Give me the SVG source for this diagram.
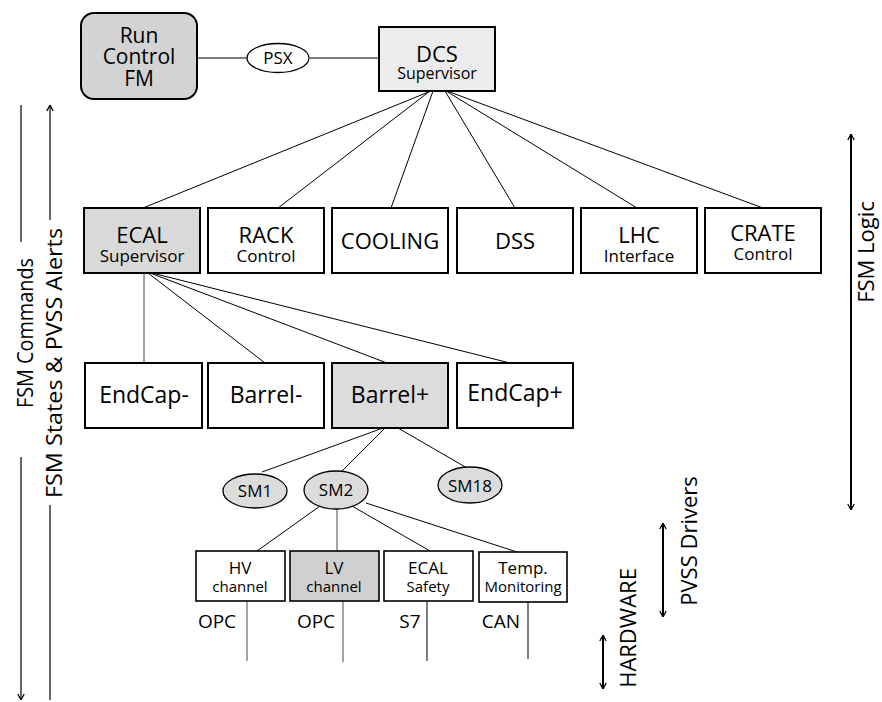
<svg xmlns="http://www.w3.org/2000/svg" width="882" height="702" viewBox="0 0 882 702">
<defs>
<style>
text{font-family:"Open Sans","Liberation Sans",sans-serif;fill:#000;text-anchor:middle}
.box{stroke:#000;stroke-width:2;fill:#fff}
.sbox{stroke:#000;stroke-width:1.6;fill:#fff}
.t22{font-size:22px}
.t21{font-size:21px}
.t23{font-size:23px}
.t17{font-size:17px}
.t16{font-size:16px}
.t15{font-size:15px}
.t19{font-size:19px}
.c{stroke:#000;stroke-width:1;fill:none}
.cg{stroke:#666;stroke-width:1.2;fill:none}
.ax{stroke:#000;stroke-width:2;fill:none}
.axl{stroke:#000;stroke-width:1.2;fill:none}
</style>
<marker id="ah" viewBox="0 0 10 10" refX="9.5" refY="5" markerWidth="8" markerHeight="8" markerUnits="userSpaceOnUse" orient="auto-start-reverse">
<path d="M2,1 L9.5,5 L2,9" fill="none" stroke="#000" stroke-width="1.6"/>
</marker>
</defs>
<rect width="882" height="702" fill="#fff"/>

<g id="connectors">
<line class="c" x1="197" y1="58" x2="247" y2="58"/>
<line class="c" x1="310" y1="58" x2="379" y2="58"/>
<line class="c" x1="431" y1="91" x2="143" y2="208"/>
<line class="c" x1="430" y1="91" x2="278" y2="208" stroke-width="1.5"/>
<line class="c" x1="433" y1="91" x2="391" y2="208"/>
<line class="c" x1="445" y1="91" x2="515" y2="208"/>
<line class="c" x1="446" y1="91" x2="637" y2="208"/>
<line class="c" x1="447" y1="91" x2="763" y2="208"/>
<line class="cg" x1="144" y1="273" x2="144" y2="363"/>
<line class="c" x1="148" y1="273" x2="265" y2="363" stroke-width="1.5"/>
<line class="c" x1="150" y1="273" x2="387" y2="363"/>
<line class="c" x1="152" y1="273" x2="510" y2="363"/>
<line class="c" x1="383" y1="428" x2="262" y2="472"/>
<line class="c" x1="385" y1="428" x2="342" y2="471"/>
<line class="c" x1="398" y1="428" x2="467" y2="468"/>
<line class="c" x1="320" y1="506" x2="257" y2="551"/>
<line class="cg" x1="337" y1="509" x2="337" y2="551"/>
<line class="c" x1="352" y1="506" x2="430" y2="551"/>
<line class="c" x1="366" y1="503" x2="517" y2="552"/>
<line class="cg" x1="247" y1="601" x2="247" y2="661"/>
<line class="cg" x1="343" y1="601" x2="343" y2="662"/>
<line class="c" x1="427" y1="601" x2="427" y2="661"/>
<line class="c" x1="528" y1="602" x2="528" y2="659"/>
</g>

<g id="run-control">
<rect x="81" y="13" width="116" height="86" rx="13" fill="#d3d3d3" stroke="#000" stroke-width="2"/>
<text class="t21" x="139" y="43">Run</text>
<text class="t21" x="139" y="64">Control</text>
<text class="t21" x="139" y="86">FM</text>
</g>
<g id="psx">
<ellipse cx="278" cy="58" rx="31" ry="14.5" fill="#fff" stroke="#000" stroke-width="1.3"/>
<text class="t17" x="278" y="64">PSX</text>
</g>
<g id="dcs">
<rect x="379" y="27" width="116" height="64" fill="#ececec" stroke="#000" stroke-width="2"/>
<text class="t22" x="437" y="62">DCS</text>
<text class="t16" x="437" y="79">Supervisor</text>
</g>

<g id="ecal">
<rect x="84" y="208" width="116" height="65" class="box" style="fill:#d9d9d9"/>
<text class="t22" x="142" y="243">ECAL</text>
<text class="t17" x="142" y="262">Supervisor</text>
</g>
<g id="rack">
<rect x="208" y="208" width="116" height="65" class="box"/>
<text class="t22" x="266" y="243">RACK</text>
<text class="t17" x="266" y="262">Control</text>
</g>
<g id="cooling">
<rect x="332" y="208" width="116" height="65" class="box"/>
<text class="t22" x="390" y="249">COOLING</text>
</g>
<g id="dss">
<rect x="457" y="208" width="116" height="65" class="box"/>
<text class="t22" x="515" y="249">DSS</text>
</g>
<g id="lhc">
<rect x="581" y="208" width="116" height="65" class="box"/>
<text class="t22" x="639" y="243">LHC</text>
<text class="t17" x="639" y="262">Interface</text>
</g>
<g id="crate">
<rect x="705" y="208" width="116" height="65" class="box"/>
<text class="t22" x="763" y="241">CRATE</text>
<text class="t17" x="763" y="260">Control</text>
</g>

<g id="endcap-minus">
<rect x="85" y="363" width="117" height="65" class="box"/>
<text class="t23" x="144" y="403">EndCap-</text>
</g>
<g id="barrel-minus">
<rect x="208" y="363" width="116" height="65" class="box"/>
<text class="t23" x="266" y="403">Barrel-</text>
</g>
<g id="barrel-plus">
<rect x="332" y="363" width="116" height="65" class="box" style="fill:#dcdcdc"/>
<text class="t23" x="390" y="403">Barrel+</text>
</g>
<g id="endcap-plus">
<rect x="457" y="363" width="116" height="65" class="box"/>
<text class="t23" x="515" y="401">EndCap+</text>
</g>

<g id="sm1">
<ellipse cx="255" cy="491" rx="32" ry="17" fill="#dcdcdc" stroke="#000" stroke-width="1.3"/>
<text class="t17" x="255" y="497">SM1</text>
</g>
<g id="sm2">
<ellipse cx="336" cy="490" rx="32" ry="19" fill="#dcdcdc" stroke="#000" stroke-width="1.3"/>
<text class="t17" x="336" y="496">SM2</text>
</g>
<g id="sm18">
<ellipse cx="470" cy="485" rx="32" ry="18" fill="#dcdcdc" stroke="#000" stroke-width="1.3"/>
<text class="t17" x="470" y="492">SM18</text>
</g>

<g id="hv">
<rect x="196" y="551" width="89" height="50" class="sbox"/>
<text class="t17" x="240" y="574">HV</text>
<text class="t15" x="240" y="592">channel</text>
</g>
<g id="lv">
<rect x="290" y="551" width="89" height="50" class="sbox" style="fill:#d0d0d0"/>
<text class="t17" x="334" y="574">LV</text>
<text class="t15" x="334" y="592">channel</text>
</g>
<g id="ecal-safety">
<rect x="384" y="551" width="89" height="50" class="sbox"/>
<text class="t17" x="428" y="574">ECAL</text>
<text class="t15" x="428" y="592">Safety</text>
</g>
<g id="temp">
<rect x="479" y="552" width="88" height="50" class="sbox"/>
<text class="t17" x="523" y="574">Temp.</text>
<text class="t15" x="523" y="592">Monitoring</text>
</g>

<g id="protocols">
<text class="t19" x="217" y="628">OPC</text>
<text class="t19" x="316" y="628">OPC</text>
<text class="t19" x="410" y="628">S7</text>
<text class="t19" x="501" y="628">CAN</text>
</g>

<g id="side-labels">
<line class="axl" x1="21" y1="105" x2="21" y2="242"/>
<line class="axl" x1="21" y1="457" x2="21" y2="700" marker-end="url(#ah)"/>
<text class="t22" transform="translate(33,333) rotate(-90)" textLength="150" lengthAdjust="spacingAndGlyphs">FSM Commands</text>
<line class="axl" x1="50" y1="220" x2="50" y2="105" marker-end="url(#ah)"/>
<line class="axl" x1="50" y1="505" x2="50" y2="700"/>
<text class="t22" transform="translate(62,363) rotate(-90)" textLength="270" lengthAdjust="spacingAndGlyphs">FSM States &amp; PVSS Alerts</text>

<line class="ax" x1="851" y1="134" x2="851" y2="510" marker-start="url(#ah)" marker-end="url(#ah)"/>
<text class="t22" transform="translate(874,252) rotate(-90)">FSM Logic</text>
<line class="ax" x1="663" y1="523" x2="663" y2="617" marker-start="url(#ah)" marker-end="url(#ah)"/>
<text class="t22" transform="translate(697,541) rotate(-90)">PVSS Drivers</text>
<line class="ax" x1="603" y1="635" x2="603" y2="689" marker-start="url(#ah)" marker-end="url(#ah)"/>
<text class="t22" transform="translate(636,628) rotate(-90)">HARDWARE</text>
</g>
</svg>
